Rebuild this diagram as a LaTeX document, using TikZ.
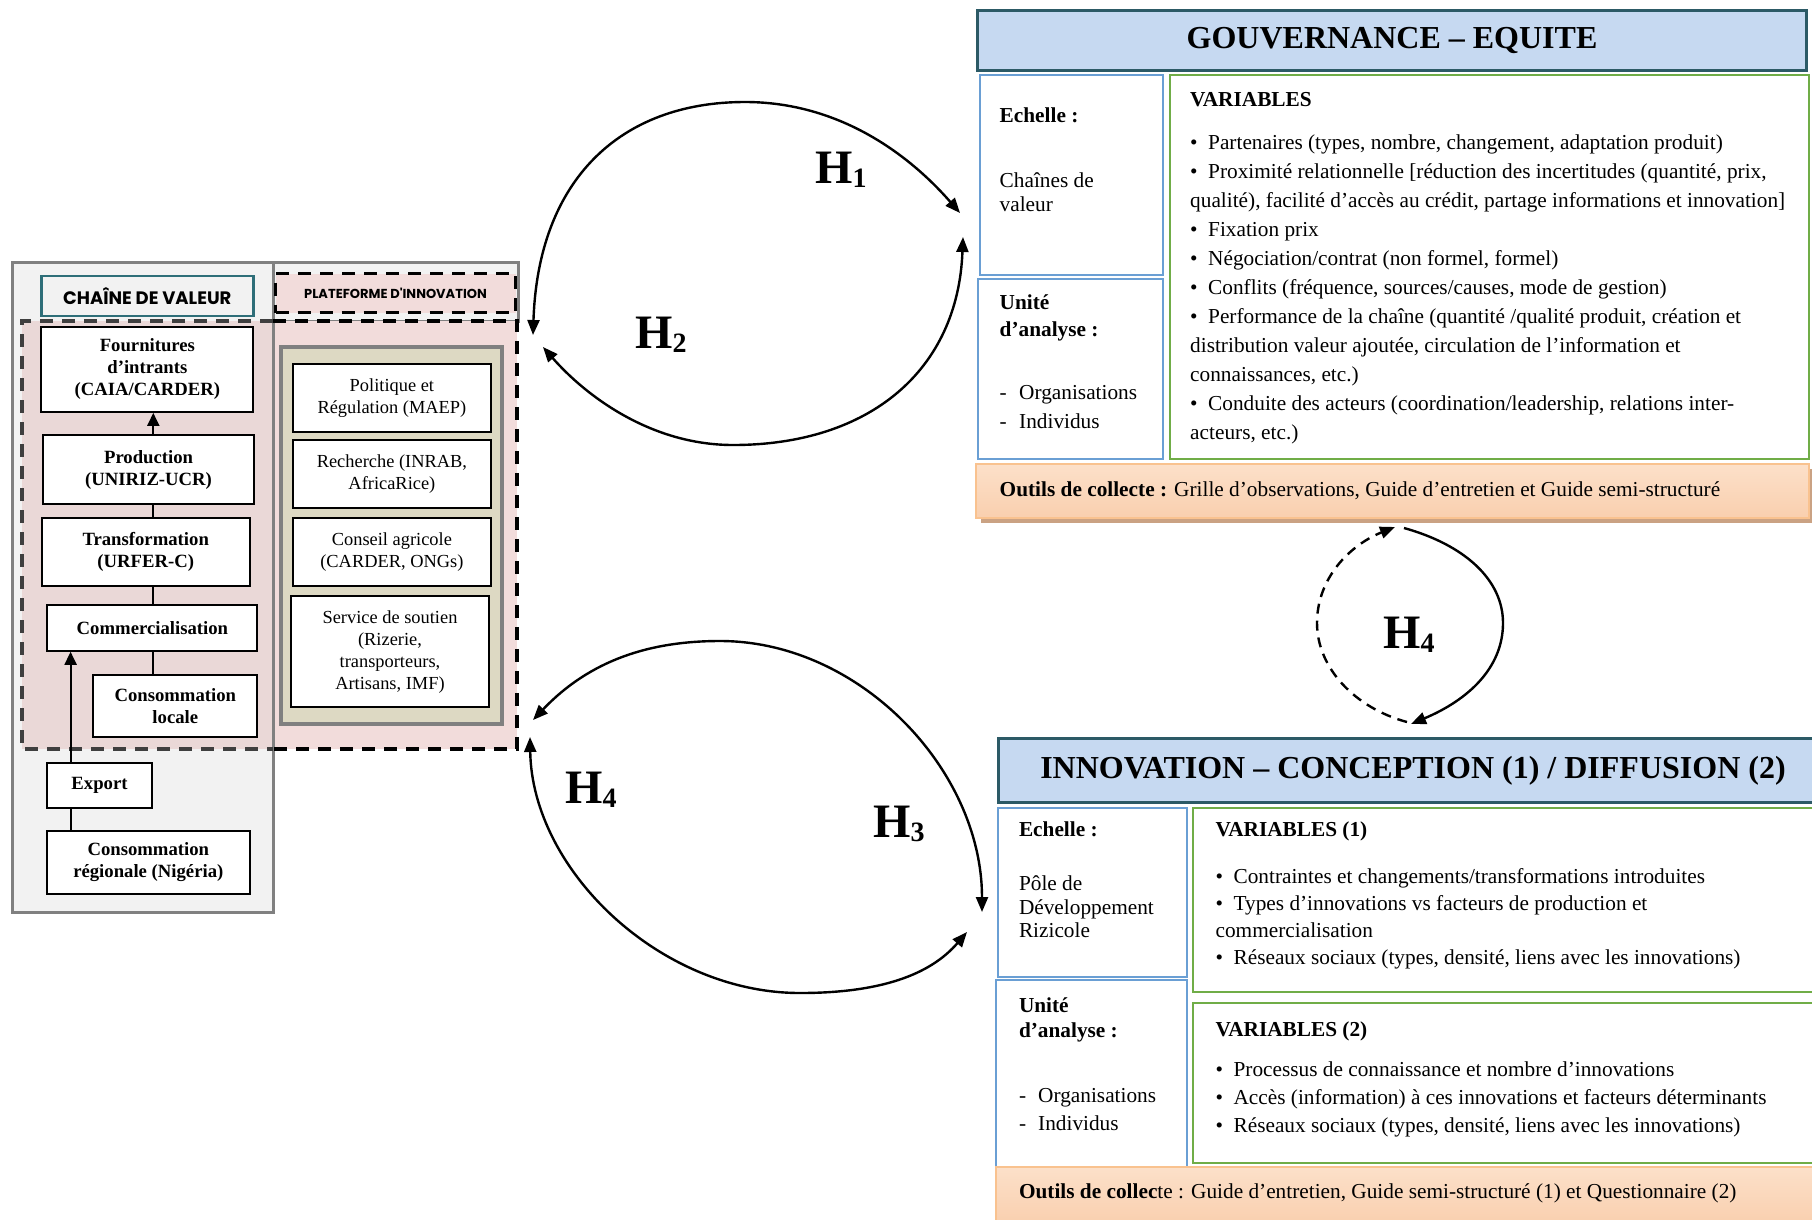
\documentclass[tikz,border=0pt]{standalone}
\usepackage{fontspec}
\setmainfont{Liberation Serif}
\newfontfamily\gothic{Poppins}
\usetikzlibrary{arrows.meta}

\definecolor{grayfill}{HTML}{F2F2F2}
\definecolor{grayline}{HTML}{808080}
\definecolor{dashgray}{HTML}{3F3F3F}
\definecolor{pinkL}{HTML}{EAD8D7}
\definecolor{pinkR}{HTML}{F2DCDB}
\definecolor{beige}{HTML}{DDD9C3}
\definecolor{headfill}{HTML}{C6D9F1}
\definecolor{headline}{HTML}{2C5A66}
\definecolor{tealline}{HTML}{2E6E78}
\definecolor{blueline}{HTML}{6A9FD4}
\definecolor{greenline}{HTML}{70AD47}
\definecolor{orline}{HTML}{F9C28F}
\definecolor{ortop}{HTML}{FCE0C9}
\definecolor{ormid}{HTML}{FDEEE2}
\definecolor{orbot}{HTML}{F9CFAE}
\definecolor{shadowc}{HTML}{CAA283}

\newcommand\fsz[2]{\fontsize{#1}{#2}\selectfont}
\newcommand\bul{\makebox[18pt][l]{\textbullet}}
\newcommand\hsub[1]{\raisebox{-4pt}{\fsz{28}{28}#1}}

\tikzset{
  panel/.style={draw=grayline, fill=grayfill, line width=3pt},
  dashL/.style={draw=dashgray, line width=3.5pt, dash pattern=on 13pt off 9pt},
  dashR/.style={draw=black, line width=3.5pt, dash pattern=on 13pt off 9pt},
  chainbox/.style={draw=black, fill=white, line width=2pt, inner sep=0pt,
    align=center, font=\bfseries\fsz{18.7}{22}},
  platbox/.style={draw=black, fill=white, line width=2pt, inner sep=0pt,
    align=center, font=\fsz{18.4}{22}},
  headbox/.style={draw=headline, fill=headfill, line width=3pt},
  bluebox/.style={draw=blueline, line width=2.5pt},
  greenbox/.style={draw=greenline, line width=2.5pt},
  outils/.style={draw=orline, line width=2.5pt, top color=ortop,
    middle color=ormid, bottom color=orbot},
  txt/.style={inner sep=0pt, anchor=base west, font=\fsz{21.3}{24}},
  btxt/.style={txt, font=\bfseries\fsz{21.3}{24}},
  title/.style={inner sep=0pt, font=\bfseries\fsz{32}{32}},
  hlabel/.style={inner sep=0pt, anchor=base west, font=\bfseries\fsz{48}{48}},
  chainarrow/.style={line width=2pt, arrows={-Triangle[length=13pt,width=12pt]}},
  chainline/.style={line width=2pt},
  hyp/.style={line width=2.4pt,
    arrows={Triangle[length=15pt,width=12pt]-Triangle[length=15pt,width=12pt]}},
  hypend/.style={line width=2.4pt, arrows={-Triangle[length=15pt,width=12pt]}},
  hypdash/.style={hypend, dash pattern=on 10pt off 7pt},
}

\begin{document}
\begin{tikzpicture}[x=1pt,y=-1pt]
\useasboundingbox (0,0) rectangle (1812,1219);
\clip (0,0) rectangle (1812,1219);
\fill[white] (0,0) rectangle (1812,1219);

% ---------- value chain panel and innovation platform ----------
\draw[panel] (12,262) rectangle (273,912);
\draw[panel] (273,262) rectangle (518,321);
\fill[pinkL] (22,321) rectangle (273,749);
\fill[pinkR] (273,321) rectangle (517,749);
\draw[grayline, line width=3pt] (273,262) -- (273,912);
\draw[dashL] (273,321) -- (22,321) -- (22,749) -- (273,749);
\draw[dashR] (273,321) -- (517,321) -- (517,749) -- (273,749);

\node[draw=tealline, fill=grayfill, line width=2.5pt, minimum width=212pt,
  minimum height=40pt, inner sep=0pt, font=\gothic\bfseries\fsz{18}{20}]
  (chaine) at (147.3,295.9) {CHAÎNE DE VALEUR};
\node[draw=black, fill=pinkR, line width=3.5pt, dash pattern=on 13pt off 9pt,
  minimum width=240pt, minimum height=39pt, inner sep=0pt,
  font=\gothic\bfseries\fsz{13}{15}] (plat) at (395.5,293) {PLATEFORME D'INNOVATION};

\draw[draw=grayline, fill=beige, line width=4pt] (281,347) rectangle (502,724);

% chain links
\node[chainbox, minimum width=212pt, minimum height=85pt] (fourn) at (147.4,369.4)
  {Fournitures\\d’intrants\\(CAIA/CARDER)};
\node[chainbox, minimum width=211pt, minimum height=69pt] (prod) at (148.6,469.7)
  {Production\\(UNIRIZ-UCR)};
\node[chainbox, minimum width=208pt, minimum height=68pt] (transf) at (145.7,552.3)
  {Transformation\\(URFER-C)};
\node[chainbox, minimum width=210pt, minimum height=45.5pt] (comm) at (152.4,628)
  {Commercialisation};
\node[chainbox, minimum width=164pt, minimum height=62pt] (locale) at (175.3,705.9)
  {Consommation\\locale};
\node[chainbox, minimum width=105.5pt, minimum height=45pt] (export) at (99.5,785.8)
  {Export};
\node[chainbox, minimum width=203pt, minimum height=63pt] (regio) at (148.3,862.5)
  {Consommation\\régionale (Nigéria)};

\coordinate (lx) at (153.3,0);
\coordinate (ex) at (70.6,0);
\draw[chainarrow] (prod.north -| lx) -- (fourn.south -| lx);
\draw[chainline] (prod.south -| lx) -- (transf.north -| lx);
\draw[chainline] (transf.south -| lx) -- (comm.north -| lx);
\draw[chainline] (comm.south -| lx) -- (locale.north -| lx);
\draw[chainarrow] (export.north -| ex) -- (comm.south -| ex);
\draw[chainline] (export.south -| ex) -- (regio.north -| ex);

% platform actors
\node[platbox, minimum width=198pt, minimum height=68pt] (pol) at (391.9,398.3)
  {Politique et\\Régulation (MAEP)};
\node[platbox, minimum width=198pt, minimum height=68pt] (rech) at (391.9,474.2)
  {Recherche (INRAB,\\AfricaRice)};
\node[platbox, minimum width=198pt, minimum height=68.5pt] (cons) at (391.9,552)
  {Conseil agricole\\(CARDER, ONGs)};
\node[platbox, minimum width=197.5pt, minimum height=111pt] (serv) at (390,651.7)
  {Service de soutien\\(Rizerie,\\transporteurs,\\Artisans, IMF)};

% ---------- governance block ----------
\node[headbox, minimum width=829pt, minimum height=60pt] (gouvbox) at (1392,40.5) {};
\node[title] (gouv) at (1392,40.5) {GOUVERNANCE – EQUITE};

\draw[bluebox] (980,75) rectangle (1163,275);
\draw[bluebox] (978,279) rectangle (1163,459);
\draw[greenbox] (1170,75) rectangle (1809,459);

\node[btxt] (ge1) at (999.5,122.7) {Echelle :};
\node[txt] (ge2) at (999.5,187.7) {Chaînes de};
\node[txt] (ge3) at (999.5,211) {valeur};
\node[btxt] (gu1) at (999.5,309.3) {Unité};
\node[btxt] (gu2) at (999.5,336) {d’analyse :};
\node[txt] (gu3) at (999.5,399.3) {-};
\node[txt] (gu4) at (1019,399.3) {Organisations};
\node[txt] (gu5) at (999.5,428.7) {-};
\node[txt] (gu6) at (1019,428.7) {Individus};

\node[btxt] (gvar) at (1190,106) {VARIABLES};
\foreach \ln [count=\i from 0] in {
  {\bul Partenaires (types, nombre, changement, adaptation produit)},
  {\bul Proximité relationnelle [réduction des incertitudes (quantité, prix,},
  {qualité), facilité d’accès au crédit, partage informations et innovation]},
  {\bul Fixation prix},
  {\bul Négociation/contrat (non formel, formel)},
  {\bul Conflits (fréquence, sources/causes, mode de gestion)},
  {\bul Performance de la chaîne (quantité /qualité produit, création et},
  {distribution valeur ajoutée, circulation de l’information et},
  {connaissances, etc.)},
  {\bul Conduite des acteurs (coordination/leadership, relations inter-},
  {acteurs, etc.)}}
  \node[txt] (gv\i) at (1190,149.3+29*\i) {\ln};

\fill[shadowc] (981,469) rectangle (1813,523);
\draw[outils] (976,464) rectangle (1809,518);
\node[txt] (gout) at (999.5,496)
  {\textbf{Outils de collecte :} Grille d’observations, Guide d’entretien et Guide semi-structuré};

% ---------- innovation block ----------
\draw[headbox] (998,738) rectangle (1818,802);
\node[title] (innov) at (1413,770.8) {INNOVATION – CONCEPTION (1) / DIFFUSION (2)};

\draw[bluebox] (998,808) rectangle (1187,977);
\draw[bluebox] (996,980) rectangle (1187,1172);
\draw[greenbox] (1193,808) rectangle (1818,992);
\draw[greenbox] (1193,1003) rectangle (1818,1163);

\node[btxt] (ie1) at (1018.8,836) {Echelle :};
\node[txt] (ie2) at (1018.8,890) {Pôle de};
\node[txt] (ie3) at (1018.8,914.3) {Développement};
\node[txt] (ie4) at (1018.8,937.7) {Rizicole};
\node[btxt] (iu1) at (1018.8,1012.7) {Unité};
\node[btxt] (iu2) at (1018.8,1037.7) {d’analyse :};
\node[txt] (iu3) at (1018.8,1102) {-};
\node[txt] (iu4) at (1038,1102) {Organisations};
\node[txt] (iu5) at (1018.8,1130) {-};
\node[txt] (iu6) at (1038,1130) {Individus};

\node[btxt] (ivar1) at (1215.4,836) {VARIABLES (1)};
\node[txt] (ia0) at (1215.4,883.7) {\bul Contraintes et changements/transformations introduites};
\node[txt] (ia1) at (1215.4,910) {\bul Types d’innovations vs facteurs de production et};
\node[txt] (ia2) at (1215.4,937.7) {commercialisation};
\node[txt] (ia3) at (1215.4,964.3) {\bul Réseaux sociaux (types, densité, liens avec les innovations)};

\node[btxt] (ivar2) at (1215.4,1036.7) {VARIABLES (2)};
\node[txt] (ib0) at (1215.4,1076) {\bul Processus de connaissance et nombre d’innovations};
\node[txt] (ib1) at (1215.4,1104.3) {\bul Accès (information) à ces innovations et facteurs déterminants};
\node[txt] (ib2) at (1215.4,1132.7) {\bul Réseaux sociaux (types, densité, liens avec les innovations)};

\draw[outils] (996,1167) rectangle (1818,1225);
\node[txt] (iout) at (1018.8,1198.7)
  {\textbf{Outils de collec}te : Guide d’entretien, Guide semi-structuré (1) et Questionnaire (2)};

% ---------- hypothesis links ----------
\coordinate (a1) at (533,335);
\coordinate (b1) at (960,213);
\draw[hyp] (a1) .. controls (538,180) and (620,102) .. (745,102)
  .. controls (835,102) and (905,150) .. (b1);

\coordinate (a2) at (963,237);
\coordinate (b2) at (543,347);
\draw[hyp] (a2) .. controls (958,370) and (870,445) .. (733,445)
  .. controls (650,445) and (585,395) .. (b2);

\coordinate (a3) at (533,720);
\coordinate (b3) at (982,912);
\draw[hyp] (a3) .. controls (590,660) and (650,641) .. (720,641)
  .. controls (860,641) and (982,770) .. (b3);

\coordinate (a4) at (530,737);
\coordinate (b4) at (967,932);
\draw[hyp] (a4) .. controls (532,870) and (660,993) .. (800,993)
  .. controls (880,993) and (930,975) .. (b4);

\coordinate (s4a) at (1404,528);
\coordinate (s4b) at (1411,724);
\draw[hypend] (s4a) .. controls (1465,545) and (1503,580) .. (1503,623)
  .. controls (1503,668) and (1468,700) .. (s4b);
\coordinate (d4a) at (1407,722);
\coordinate (d4b) at (1395,527);
\draw[hypdash] (d4a) .. controls (1355,708) and (1317,668) .. (1317,623)
  .. controls (1317,578) and (1350,545) .. (d4b);

\node[hlabel] (h1) at (815,183) {H\hsub{1}};
\node[hlabel] (h2) at (635,348) {H\hsub{2}};
\node[hlabel] (h4a) at (565,803) {H\hsub{4}};
\node[hlabel] (h3) at (873,837) {H\hsub{3}};
\node[hlabel] (h4b) at (1383,648) {H\hsub{4}};
\end{tikzpicture}
\end{document}
